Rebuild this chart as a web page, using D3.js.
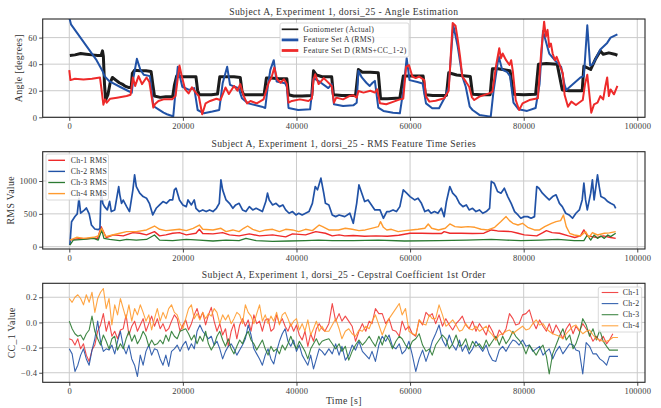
<!DOCTYPE html>
<html>
<head>
<meta charset="utf-8">
<script src="https://cdn.jsdelivr.net/npm/d3@7"></script>
<style>
  body { margin: 0; background: #fff; }
  svg { display: block; }
  text { font-family: "Liberation Serif", "Times New Roman", serif; }
</style>
</head>
<body>
<svg id="chart" width="661" height="408"></svg>
<script>
// ---------- Angle estimation (degrees) ----------
const gonioTime = [100,1000,2000,3000,4000,5000,5600,5850,6000,6200,6400,6800,7200,7600,8200,8800,9300,9800,10400,10900,11100,11500,12500,13500,14400,14700,15000,16000,17000,18200,18500,18900,20000,21000,22300,22600,22900,24000,25000,26100,26500,27500,29000,30100,30400,30700,32000,34300,34700,35500,37000,38300,38600,39500,41000,42700,43000,43500,44500,46200,46500,48000,50400,50900,51600,53000,54400,54800,56000,58200,58800,60000,62300,62700,64000,66400,66800,68200,70600,71000,72500,74100,74500,75500,77600,78200,80000,82100,82600,84000,85900,86800,88000,90300,90600,91800,92600,93500,94000,95000,96000,96500];
const gonioAngle = [46.5,47,48,47.5,47,46.5,46.5,50,46,25,13,17,26,30,28,26,25,23.5,22.5,22.5,33,35.5,35,35,34.5,25,16,15,15.5,15.5,24,31,30.5,30.5,30.5,20,17,17,17,17.5,30.5,30.5,30.5,30,20,17,17,17,29.5,29.5,29,29,17,16,16,16.5,35,32,30.5,30.5,17,16.5,16.5,36,34,34,33.5,14,14,14.5,31,31,31,17,16.5,16.5,33.5,31.8,30.7,17.3,17,17,36.5,36.5,35,17.3,17,17.3,40,40.5,40,20.5,20,20,38.5,36,43.5,50,47.5,48.5,47.5,46.7];

const featATime = [0,300,4800,5900,6200,7100,8900,10300,11000,11300,11900,12500,13100,14200,14800,15700,16600,17200,18100,18300,19100,19400,19900,21100,22000,22600,23700,25200,26400,27000,27800,28300,29800,30400,31500,33900,34500,35000,35400,36000,36500,38000,38300,38600,40300,42400,43000,44000,45600,46200,46600,48200,50000,50600,50900,51500,52300,52900,53400,53800,54400,55300,57000,58200,58800,59400,59900,61300,62200,62800,63900,65100,66200,66800,67600,68400,69200,69800,70500,71000,72200,74200,74700,75600,76200,77100,77600,78200,79100,80600,82100,82800,83400,84500,85700,86600,87200,87500,90000,90600,91200,91700,92200,93500,94700,95300,96500];
const featAAngle = [75,70,43,34.4,31,27,23,20,18.5,30,44,36,32,31,8.5,6,3.5,2.3,1,0.5,38,32,23,20.6,22,5.5,3,4.3,5.5,25.6,38,24.4,22,14.3,10.5,8,7,25,35.7,43,27,25.6,23,7,5.5,6,29.4,27,22,25,9.8,8.5,9,11,35,30,26,23.6,26,27.4,7.3,4.8,3.5,3,20,44.5,28,26.6,25.5,10.5,6.8,6.8,15.6,23,69.6,53,30.7,23,8,5.5,1.8,0.5,20,46,36,34,31,11,6,4.8,7,25,65,48,42,38,24.4,20.6,30,31,69.3,39,40,51,56,60,62.5];

const featDTime = [0,200,1000,2500,4000,5400,5700,6000,6300,6600,7200,8400,10100,10800,11200,11600,12200,12800,13600,14100,14800,15100,15700,16600,18100,18700,19400,19800,20400,21000,21600,22200,22800,23400,24000,24800,25900,26600,27500,28100,29000,29600,30100,30700,31300,31900,33000,34200,35100,35600,36100,36600,37200,37800,38300,38600,39200,40600,42100,42700,43000,43300,43900,44800,45300,46200,46600,47000,48200,49300,50000,50600,50900,51800,53000,53800,54200,54700,55800,57000,58200,58800,59300,59800,60400,61000,61600,62500,62800,63400,64500,66000,66800,67500,68000,68400,68800,69200,69800,70400,70900,71300,72200,73900,74500,75100,75700,76000,76300,76900,77500,77800,78100,78600,79200,79800,81000,82500,83100,83600,83900,84200,84500,84800,85100,85500,85800,86900,87200,87800,88400,89200,90400,90800,91200,91500,91900,92400,93000,93500,94000,94400,94700,95000,95300,95900,96500];
const featDAngle = [35.5,28,29,28.5,29,30,20,9.5,13.5,11,14,14.8,16,17,30,23.6,31,25,30,26.5,7.3,10,12.3,13.5,13.5,16,39,31,21,18,22.6,19,16,2.3,10.5,12.3,14,13,22.4,17.5,23.6,20,25,16,10.5,12.3,10.5,13.5,26,30,37.4,28.6,26,28.6,25,11,12.3,13.5,12.3,14,28.6,32.4,25,29.5,27.4,23.6,11,14.8,13.5,16,16.6,14.8,19.8,18.6,20,18.6,21,10.5,9.8,11.6,13.5,14,38,39.4,30.7,29.5,30.7,28,15.6,11.8,12.5,14.3,20,70.9,69,58.3,45.7,30.7,27,23,15,13,15.6,18,19.3,38,52,44.5,48,43,39.4,43,34.4,13,5.5,10.5,13,14.3,50,72,60.8,65.8,53,55.5,48,43,45.5,33,17,8,11.8,9.3,13,25,32,20,3.5,9.8,11,16,13.5,23.6,30,16,21,17.3,23.6];

// ---------- RMS feature time series ----------
const rms1Time = [100,1000,2000,3000,4000,5000,5600,6500,7800,9500,11200,12400,13600,15000,15900,17000,18200,19400,20600,22300,22900,23500,25300,27000,28200,29900,31700,33500,35800,38100,39300,41600,43400,45100,46300,47500,48500,50000,52000,54000,56000,58000,60000,62000,64000,65500,66000,67000,69000,71000,73000,74300,75400,77800,79000,80100,82300,83300,84000,85000,86300,87900,89000,90000,90600,91200,93000,94000,95300,96200];
const rms1Value = [100,115,125,120,130,125,305,140,180,165,215,205,180,230,165,180,205,215,180,205,265,200,195,215,180,165,195,165,180,150,195,180,230,205,165,180,165,170,160,165,160,175,205,205,200,200,230,205,205,200,205,255,240,230,205,180,165,210,245,215,205,165,140,165,255,165,140,165,140,127];

const rms2Time = [100,400,1000,1400,1700,2000,2700,3000,3500,3900,4500,5100,5400,5600,5900,6200,6700,7100,7400,8000,8700,8900,9200,9500,10100,10600,11200,11500,11800,12400,13000,13600,14100,14700,15300,15900,16500,17100,17700,18200,18500,18800,19400,20000,20600,20900,21500,22000,22300,22900,23500,24100,24700,25300,25900,26400,26700,27000,27600,28200,28800,29300,29900,30500,31100,31700,32300,32900,33500,34000,34600,34900,35200,35800,36400,37000,37600,38100,38700,39300,39900,40400,41000,41600,42200,42800,43300,43700,44300,44800,45100,45700,46300,46900,47500,48500,49400,50000,50600,51000,51500,52000,52600,53200,53800,54700,55300,55900,56400,57000,57600,58200,58800,59400,60000,60800,61400,62000,62600,63200,63700,64300,64900,65500,66000,66400,67000,67500,68100,68700,69300,69900,70400,71000,71600,72200,72800,73400,74000,74300,74800,75400,76000,76600,77200,77800,78400,79000,79500,80100,80700,81300,81900,82300,82700,83300,83900,84500,85100,85700,86300,86800,87400,88000,88600,89200,89800,90300,90600,90900,91200,91800,92100,92400,93000,93300,93600,94200,94800,95300,95900,96200];
const rms2Value = [25,380,460,500,740,510,560,590,500,330,270,260,280,860,660,610,560,690,535,560,916,790,660,710,610,535,865,1094,916,815,763,738,660,483,585,636,687,660,712,712,865,890,712,636,610,712,636,712,585,535,560,535,560,535,585,660,1018,865,712,660,585,636,660,560,535,610,560,585,560,535,687,815,712,636,660,610,636,560,509,535,483,509,483,509,535,660,916,865,1043,815,660,636,483,458,483,458,509,356,660,940,815,687,712,636,560,560,433,535,535,560,535,610,865,815,763,712,738,660,535,560,509,535,509,585,458,687,916,815,763,660,610,636,560,585,535,560,509,535,585,993,967,840,815,890,763,660,535,483,433,458,458,433,458,916,890,815,763,712,763,789,660,610,509,483,433,509,560,712,967,712,560,815,1018,712,1094,916,763,738,687,660,636,585];

const rms3Time = [100,700,2500,4300,5100,5700,6100,7100,8900,10100,11800,13600,15000,15900,18200,20600,22900,25300,27600,29900,31100,32900,35800,38700,41600,43900,46300,50000,54400,59000,65000,70000,74300,77000,79500,83000,86000,88900,90600,91200,91800,92400,93000,93600,94200,94800,95300,96200];
const rms3Value = [25,100,110,127,100,255,127,110,92,110,100,110,178,100,92,110,100,87,100,92,127,92,81,87,92,100,92,92,100,87,92,100,110,100,92,100,110,92,92,178,100,178,127,163,127,178,153,204];

const rms4Time = [100,1300,2500,4300,5100,5700,6400,7600,8900,10100,11800,13600,15000,15900,17000,18200,19400,20600,21800,22900,23500,25300,26700,27600,28800,29900,30700,31400,32300,33500,34600,35800,37000,38100,39300,40400,41600,42800,44000,44600,45700,47400,48600,49800,51000,52100,53200,54400,54800,55300,55900,56700,57900,59100,60200,61400,62600,63200,63800,65000,66200,67000,67900,69000,70200,71400,72500,73700,74900,76000,76900,77500,78100,79000,79800,80700,81900,82800,83700,84900,85700,86500,87000,87500,88100,88900,90000,90900,91500,92100,93000,94200,95100,96200];
const rms4Value = [100,143,127,143,163,280,153,178,205,230,230,255,315,265,245,255,265,245,280,330,265,255,280,229,255,229,280,315,265,229,255,265,229,265,255,229,265,245,330,305,255,255,280,265,245,255,280,305,382,295,255,265,229,245,255,265,280,346,280,255,280,346,305,295,305,295,265,255,295,382,458,397,356,330,356,295,255,255,305,356,382,397,483,305,204,178,163,229,143,215,178,204,210,229];

// ---------- Cepstral coefficient, 1st order ----------
const ccTime = [0,500,1000,1500,2000,2500,3000,3500,4000,4500,5000,5500,6000,6500,7000,7500,8000,8500,9000,9500,10000,10500,11000,11500,12000,12500,13000,13500,14000,14500,15000,15500,16000,16500,17000,17500,18000,18500,19000,19500,20000,20500,21000,21500,22000,22500,23000,23500,24000,24500,25000,25500,26000,26500,27000,27500,28000,28500,29000,29500,30000,30500,31000,31500,32000,32500,33000,33500,34000,34500,35000,35500,36000,36500,37000,37500,38000,38500,39000,39500,40000,40500,41000,41500,42000,42500,43000,43500,44000,44500,45000,
  45700,46300,46900,47500,48000,48600,49200,49800,50400,51000,51600,52200,52800,53300,53900,54500,55100,55700,56300,56900,57500,58100,58600,59200,59800,60400,61000,61600,62200,62800,63400,63900,64500,65100,65700,66300,66900,67500,68100,68700,69200,69800,70400,71000,71600,72200,72800,73400,73900,74500,75100,75700,76300,76900,77500,78100,78600,79200,79800,80400,81000,81600,82200,82800,83400,84000,84500,85100,85700,86300,86900,87500,88100,88700,89200,89800,90400,91000,91600,92200,92800,93400,94000,94600,95100,95700,96300,96600];
const cc1 = [-0.13,-0.14,-0.18,-0.13,-0.21,-0.17,-0.26,-0.31,-0.22,-0.18,-0.07,-0.02,0.07,-0.07,0.01,-0.11,-0.07,-0.13,-0.06,-0.05,0.06,-0.10,-0.03,0.01,-0.07,-0.02,0.03,-0.07,-0.01,0.05,-0.03,0.03,-0.05,-0.01,-0.07,-0.05,0.01,0.06,0.03,-0.07,-0.02,0.02,-0.06,-0.01,0.06,0.11,0.03,0.08,-0.02,0.06,0.12,0.01,-0.07,-0.01,-0.10,-0.05,-0.19,-0.07,-0.01,-0.13,-0.02,0.03,-0.03,0.02,-0.07,0.06,-0.01,0.01,-0.07,0.02,0.03,-0.07,-0.05,0.06,-0.01,0.03,-0.03,-0.07,-0.01,-0.07,-0.02,-0.10,-0.14,-0.07,-0.19,-0.09,-0.15,-0.05,-0.01,-0.05,-0.07,
  -0.01,0.15,0.01,0.07,0.01,0.05,0.01,-0.03,-0.15,-0.07,-0.01,-0.07,0.01,-0.01,0.11,0.07,0.07,-0.01,0.03,-0.06,-0.07,-0.11,0.01,-0.06,-0.03,-0.09,-0.11,0.02,-0.02,0.08,0.05,0.07,-0.01,0.06,-0.03,0.03,-0.02,-0.06,-0.01,0.02,0.05,-0.02,-0.05,0.01,-0.07,-0.01,-0.05,-0.10,-0.02,-0.07,-0.14,-0.06,-0.10,-0.05,0.07,0.03,-0.02,-0.01,0.06,0.07,0.10,0.01,-0.05,0.02,-0.03,-0.07,-0.01,-0.09,-0.02,-0.07,-0.13,-0.05,-0.01,-0.09,-0.03,-0.07,-0.01,-0.05,-0.09,-0.15,-0.11,-0.15,-0.11,-0.17,-0.14,-0.09,null,null];
const cc2 = [-0.21,-0.25,-0.39,-0.34,-0.26,-0.21,-0.29,-0.34,-0.22,-0.13,0.01,-0.15,-0.23,-0.21,-0.22,-0.18,-0.25,-0.15,-0.07,-0.19,-0.25,-0.18,-0.29,-0.34,-0.43,-0.26,-0.34,-0.23,-0.18,-0.26,-0.21,-0.22,-0.29,-0.34,-0.26,-0.35,-0.23,-0.21,-0.18,-0.23,-0.18,-0.15,-0.22,-0.17,-0.21,-0.07,-0.02,-0.07,-0.10,-0.13,-0.11,-0.18,-0.15,-0.21,-0.29,-0.23,-0.19,-0.17,-0.21,-0.26,-0.22,-0.18,-0.13,-0.02,-0.10,-0.21,-0.25,-0.29,-0.34,-0.26,-0.21,-0.29,-0.33,-0.23,-0.15,-0.09,-0.05,-0.15,-0.19,-0.14,-0.23,-0.18,-0.26,-0.30,-0.34,-0.26,-0.37,-0.29,-0.21,-0.23,-0.26,
  -0.21,-0.25,-0.17,-0.26,-0.19,-0.30,-0.26,-0.18,-0.22,-0.15,-0.23,-0.26,-0.29,-0.23,-0.31,-0.18,-0.11,-0.15,-0.10,-0.19,-0.21,-0.17,-0.25,-0.22,-0.15,-0.26,-0.39,-0.29,-0.22,-0.31,-0.23,-0.15,-0.09,-0.02,-0.14,-0.19,-0.10,-0.18,-0.22,-0.14,-0.23,-0.18,-0.25,-0.21,-0.15,-0.19,-0.23,-0.18,-0.25,-0.30,-0.31,-0.22,-0.19,-0.23,-0.18,-0.14,-0.15,-0.18,-0.14,-0.19,-0.18,-0.23,-0.21,-0.19,-0.26,-0.23,-0.21,-0.29,-0.23,-0.19,-0.25,-0.21,-0.17,-0.18,-0.22,-0.23,-0.41,-0.16,-0.19,-0.25,-0.25,-0.29,-0.31,-0.34,-0.27,-0.27,-0.27,-0.27];
const cc3 = [0.01,-0.05,-0.09,-0.11,-0.10,-0.14,-0.09,-0.06,0.05,-0.07,-0.13,-0.18,-0.10,-0.15,-0.21,-0.13,-0.11,-0.22,-0.17,-0.21,-0.13,-0.07,-0.15,-0.10,-0.17,-0.13,-0.07,-0.11,-0.19,-0.14,-0.18,-0.17,-0.14,-0.17,-0.10,-0.15,-0.07,-0.11,-0.13,-0.07,-0.06,-0.05,-0.09,-0.14,-0.10,-0.17,-0.11,-0.15,-0.07,-0.17,-0.22,-0.18,-0.11,-0.07,-0.14,-0.19,-0.13,-0.21,-0.25,-0.19,-0.14,-0.17,-0.11,-0.07,-0.14,-0.17,-0.22,-0.18,-0.14,-0.21,-0.26,-0.19,-0.23,-0.21,-0.25,-0.18,-0.22,-0.17,-0.11,-0.17,-0.21,-0.15,-0.19,-0.23,-0.29,-0.21,-0.17,-0.13,-0.18,-0.15,-0.14,
  -0.13,-0.17,-0.21,-0.17,-0.23,-0.19,-0.30,-0.23,-0.18,-0.14,-0.18,-0.15,-0.11,-0.15,-0.19,-0.11,-0.18,-0.10,-0.14,-0.21,-0.15,-0.11,-0.13,-0.18,-0.21,-0.15,-0.13,-0.09,-0.18,-0.23,-0.21,-0.26,-0.18,-0.14,-0.10,-0.13,-0.21,-0.17,-0.10,-0.19,-0.18,-0.13,-0.22,-0.15,-0.19,-0.17,-0.21,-0.14,-0.19,-0.15,-0.11,-0.18,-0.11,-0.17,-0.13,-0.07,-0.11,-0.14,-0.18,-0.25,-0.18,-0.22,-0.26,-0.21,-0.18,-0.27,-0.41,-0.25,-0.18,-0.11,-0.05,-0.14,-0.10,-0.21,-0.17,-0.09,0.03,-0.02,-0.11,-0.05,-0.14,-0.06,-0.15,-0.19,-0.22,-0.22,-0.22,-0.22];
const cc4 = [0.19,0.16,0.20,0.22,0.19,0.14,0.22,0.16,0.24,0.08,0.19,0.24,0.27,0.11,0.19,-0.02,0.14,0.06,0.19,0.11,0.03,0.14,0.01,0.11,0.06,0.14,0.08,0.01,0.06,-0.06,0.03,0.11,0.01,0.08,0.03,0.11,0.14,0.08,0.06,-0.01,-0.05,0.03,0.11,0.14,0.03,0.07,0.02,0.08,0.03,0.07,0.05,0.11,0.08,-0.01,0.06,0.02,0.06,-0.01,0.03,0.08,0.06,-0.01,0.14,0.08,0.05,-0.01,0.07,0.14,0.01,0.06,-0.01,0.05,0.01,0.08,-0.02,0.06,0.08,0.03,-0.03,0.01,0.03,-0.06,-0.01,-0.07,0.02,-0.10,-0.05,0.01,-0.07,-0.03,-0.07,
  -0.07,-0.02,0.03,-0.05,-0.13,-0.07,-0.05,-0.09,-0.11,-0.06,-0.07,-0.03,-0.05,0.01,0.06,-0.02,-0.10,-0.03,0.03,0.07,0.11,0.15,0.06,0.11,-0.07,-0.09,-0.10,0.02,-0.01,-0.02,0.06,0.03,0.03,0.14,0.06,-0.03,-0.01,0.02,-0.02,-0.07,-0.06,-0.01,-0.05,-0.06,-0.03,-0.07,-0.05,-0.03,-0.07,-0.10,-0.14,-0.10,-0.09,-0.07,-0.06,-0.09,-0.07,-0.05,-0.03,-0.06,-0.05,-0.01,0.02,-0.02,-0.01,-0.05,-0.07,-0.09,-0.10,-0.11,-0.13,-0.09,-0.06,-0.03,-0.02,-0.06,-0.09,-0.07,-0.06,-0.10,-0.13,-0.14,-0.15,-0.15,-0.14,-0.12,-0.12,-0.12];

// ---------- Axis ticks ----------
const timeTicks = [0, 20000, 40000, 60000, 80000, 100000];
const angleTicks = [0, 20, 40, 60];
const rmsTicks = [0, 500, 1000];
const ccTicks = [-0.4, -0.2, 0.0, 0.2];

const PLOT_L = 42.7, PLOT_R = 645;
const COLORS = { black: "#1c1c1c", blue: "#2152a6", red: "#ee2a2a", green: "#2b7a32", orange: "#ff9b2f" };

const svg = d3.select("#chart");
const x = d3.scaleLinear().domain([-4680, 101360]).range([PLOT_L, PLOT_R]);
const minus = s => s.replace("-", "\u2212");

function drawPanel(p) {
  const y = d3.scaleLinear().domain(p.yDomain).range([p.bottom, p.top]);
  const g = svg.append("g");
  const h = p.bottom - p.top;

  // grid
  g.append("g").selectAll("line").data(timeTicks).join("line")
    .attr("x1", d => x(d)).attr("x2", d => x(d))
    .attr("y1", p.top).attr("y2", p.bottom)
    .attr("stroke", "#cbcbcb").attr("stroke-width", 1);
  g.append("g").selectAll("line").data(p.yTicks).join("line")
    .attr("x1", PLOT_L).attr("x2", PLOT_R)
    .attr("y1", d => y(d)).attr("y2", d => y(d))
    .attr("stroke", "#cbcbcb").attr("stroke-width", 1);

  // series
  const clipId = "clip-" + p.name;
  svg.append("clipPath").attr("id", clipId).append("rect")
    .attr("x", PLOT_L).attr("y", p.top).attr("width", PLOT_R - PLOT_L).attr("height", h);
  const lg = g.append("g").attr("clip-path", `url(#${clipId})`);
  const line = d3.line().defined(d => d[1] != null).x(d => x(d[0])).y(d => y(d[1]));
  p.series.forEach(s => {
    const pts = s.t.map((t, i) => [t, s.v[i]]);
    lg.append("path").datum(pts).attr("d", line)
      .attr("fill", "none").attr("stroke", s.color).attr("stroke-width", s.w)
      .attr("stroke-linejoin", "round").attr("stroke-linecap", "butt")
      .attr("stroke-opacity", s.op || 1);
  });

  // axes
  const xa = g.append("g").attr("transform", `translate(0,${p.bottom})`)
    .call(d3.axisBottom(x).tickValues(timeTicks).tickSize(3.5).tickSizeOuter(0).tickPadding(2).tickFormat(d3.format("d")));
  const ya = g.append("g").attr("transform", `translate(${PLOT_L},0)`)
    .call(d3.axisLeft(y).tickValues(p.yTicks).tickSize(3.5).tickSizeOuter(0).tickPadding(2).tickFormat(p.fmt));
  [xa, ya].forEach(a => {
    a.select(".domain").remove();
    a.selectAll(".tick line").attr("stroke", "#333").attr("stroke-width", 0.9);
    a.selectAll(".tick text").attr("fill", "#3a3a3a")
      .style("font-family", '"Liberation Serif", serif').style("font-size", "8.5px")
      .style("letter-spacing", "0.2px");
  });

  // frame
  g.append("rect").attr("x", PLOT_L).attr("y", p.top).attr("width", PLOT_R - PLOT_L).attr("height", h)
    .attr("fill", "none").attr("stroke", "#262626").attr("stroke-width", 1.1);

  // title & y label
  g.append("text").attr("x", (PLOT_L + PLOT_R) / 2).attr("y", p.titleY).attr("text-anchor", "middle")
    .attr("fill", "#333").style("font-size", "9.6px").style("letter-spacing", "0.42px").text(p.title);
  g.append("text").attr("transform", `translate(${p.ylabelX},${(p.top + p.bottom) / 2}) rotate(-90)`)
    .attr("text-anchor", "middle").attr("fill", "#333").style("font-size", "9.8px")
    .style("letter-spacing", "0.35px").text(p.ylabel);

  // legend
  const L = p.legend;
  const lgd = g.append("g");
  lgd.append("rect").attr("x", L.x).attr("y", L.y).attr("width", L.w).attr("height", L.h)
    .attr("rx", 2).attr("fill", "#fff").attr("fill-opacity", 0.85)
    .attr("stroke", "#d0d0d0").attr("stroke-width", 0.8);
  p.series.forEach((s, i) => {
    const yy = L.y + L.first + i * L.step;
    lgd.append("line").attr("x1", L.x + L.lx1).attr("x2", L.x + L.lx2).attr("y1", yy).attr("y2", yy)
      .attr("stroke", s.color).attr("stroke-width", s.lw || s.w).attr("stroke-opacity", s.op || 1);
    lgd.append("text").attr("x", L.x + L.tx).attr("y", yy).attr("dy", "0.33em")
      .attr("fill", "#333").style("font-size", "7.8px").style("letter-spacing", "0.3px").text(s.label);
  });
}

drawPanel({
  name: "angle", top: 19, bottom: 117.3, yDomain: [0, 74], yTicks: angleTicks, fmt: d3.format("d"),
  title: "Subject A, Experiment 1, dorsi_25 - Angle Estimation", titleY: 14.5,
  ylabel: "Angle [degrees]", ylabelX: 22,
  series: [
    { t: gonioTime, v: gonioAngle, color: COLORS.black, w: 3, lw: 1.7, label: "Goniometer (Actual)" },
    { t: featATime, v: featAAngle, color: COLORS.blue, w: 2, lw: 2.8, label: "Feature Set A (RMS)" },
    { t: featDTime, v: featDAngle, color: COLORS.red, w: 2, lw: 2.8, label: "Feature Set D (RMS+CC_1-2)" }
  ],
  legend: { x: 280, y: 23, w: 129, h: 34, first: 6.3, step: 10.6, lx1: 1.7, lx2: 18.3, tx: 23.3 }
});

drawPanel({
  name: "rms", top: 151.7, bottom: 249, yDomain: [-35, 1446], yTicks: rmsTicks, fmt: d3.format("d"),
  title: "Subject A, Experiment 1, dorsi_25 - RMS Feature Time Series", titleY: 147,
  ylabel: "RMS Value", ylabelX: 14,
  series: [
    { t: rms1Time, v: rms1Value, color: COLORS.red, w: 1.4, label: "Ch-1 RMS" },
    { t: rms2Time, v: rms2Value, color: COLORS.blue, w: 1.7, lw: 1.4, label: "Ch-2 RMS" },
    { t: rms3Time, v: rms3Value, color: COLORS.green, w: 1.3, label: "Ch-3 RMS" },
    { t: rms4Time, v: rms4Value, color: COLORS.orange, w: 1.4, label: "Ch-4 RMS" }
  ],
  legend: { x: 46, y: 154, w: 62.5, h: 46, first: 6.3, step: 11.1, lx1: 2.3, lx2: 19, tx: 24.7 }
});

drawPanel({
  name: "cc", top: 283.3, bottom: 382.3, yDomain: [-0.476, 0.311], yTicks: ccTicks, fmt: d => minus(d3.format(".1f")(d)),
  title: "Subject A, Experiment 1, dorsi_25 - Cepstral Coefficient 1st Order", titleY: 278,
  ylabel: "CC_1 Value", ylabelX: 15,
  series: [
    { t: ccTime, v: cc1, color: COLORS.red, w: 1.1, op: 0.85, label: "Ch-1" },
    { t: ccTime, v: cc2, color: COLORS.blue, w: 1.1, op: 0.9, label: "Ch-2" },
    { t: ccTime, v: cc3, color: COLORS.green, w: 1.1, op: 0.9, label: "Ch-3" },
    { t: ccTime, v: cc4, color: COLORS.orange, w: 1.1, op: 0.9, label: "Ch-4" }
  ],
  legend: { x: 598.3, y: 287, w: 43.4, h: 45, first: 5.5, step: 11.1, lx1: 3.4, lx2: 20, tx: 24.4 }
});

svg.append("text").attr("x", (PLOT_L + PLOT_R) / 2).attr("y", 403.5).attr("text-anchor", "middle")
  .attr("fill", "#333").style("font-size", "9.8px").style("letter-spacing", "0.35px").text("Time [s]");
</script>
</body>
</html>
